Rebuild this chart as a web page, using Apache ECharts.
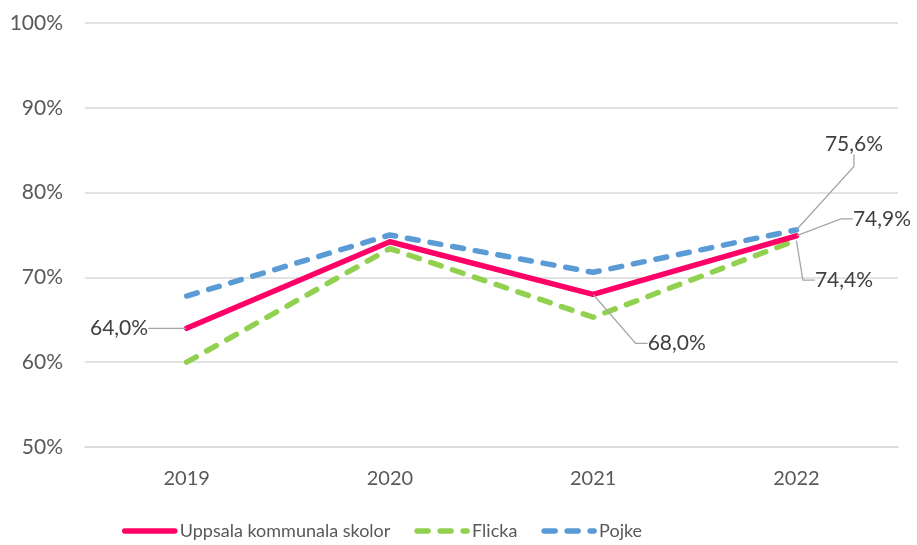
<!DOCTYPE html>
<html><head><meta charset="utf-8">
<script src="https://cdn.jsdelivr.net/npm/echarts@6/dist/echarts.min.js"></script>
<style>html,body{margin:0;padding:0;background:#fff}#c{width:917px;height:545px}</style>
</head><body><div id="c"></div>
<script>
const categories = ['2019', '2020', '2021', '2022'];
const uppsala = [64.0, 74.2, 68.0, 74.9];
const flicka = [60.0, 73.4, 65.3, 74.4];
const pojke = [67.8, 75.0, 70.6, 75.6];
const yTicks = [50, 60, 70, 80, 90, 100];
const seriesNames = ['Uppsala kommunala skolor', 'Flicka', 'Pojke'];

// which points carry a data label, and where it sits relative to the point
const labelled = {
  0: {0: {dx: -36, dy: 0, pos: 'left'}, 2: {dx: 52, dy: 49, pos: 'right'}, 3: {dx: 54, dy: -17, pos: 'right'}},
  1: {3: {dx: 16, dy: 40, pos: 'right'}},
  2: {3: {dx: 26, dy: -86, pos: 'right'}}
};

const FONT = 'Lato';
const fmt = v => v.toFixed(1).replace('.', ',') + '%';

function buildData(vals, si) {
  return vals.map((v, i) => {
    const l = labelled[si][i];
    if (!l) return {value: v, label: {show: false}, labelLine: {show: false}};
    return {value: v, label: {show: true, position: l.pos, distance: 2}, labelLine: {show: true}};
  });
}

const colors = ['#FF0066', '#92D050', '#5B9BD5'];
const chart = echarts.init(document.getElementById('c'), null, {renderer: 'canvas'});
const mk = (name, vals, si, dashed) => ({
  name: name, type: 'line', data: buildData(vals, si),
  symbol: 'circle', symbolSize: 1, showSymbol: true,
  itemStyle: {color: 'rgba(0,0,0,0)', borderWidth: 0},
  lineStyle: {color: colors[si], width: 5.5, type: dashed ? [11, 12] : 'solid', cap: 'round', join: 'round'},
  label: {color: '#404040', fontFamily: FONT, fontSize: 21, formatter: p => fmt(p.value)},
  labelLine: {lineStyle: {color: '#A6A6A6', width: 1.3}, length2: 12, smooth: false},
  emphasis: {disabled: true},
  z: si === 0 ? 3 : 2
});

chart.setOption({
  animation: false,
  color: colors,
  grid: {left: 85, right: 19, top: 23, bottom: 98, containLabel: false},
  xAxis: {
    type: 'category', data: categories, boundaryGap: true,
    axisLine: {show: true, lineStyle: {color: '#D9D9D9', width: 1.5}},
    axisTick: {show: false},
    axisLabel: {color: '#595959', fontFamily: FONT, fontSize: 20, margin: 22}
  },
  yAxis: {
    type: 'value', min: 50, max: 100, interval: 10,
    axisLine: {show: false}, axisTick: {show: false},
    splitLine: {lineStyle: {color: '#D9D9D9', width: 1.5}},
    axisLabel: {color: '#595959', fontFamily: FONT, fontSize: 21, margin: 22, formatter: v => v + '%'}
  },
  legend: {
    bottom: 0, left: 117, itemWidth: 50, itemHeight: 8, itemGap: 24,
    lineStyle: {width: 5.5, cap: 'round'},
    itemStyle: {opacity: 0},
    textStyle: {color: '#595959', fontFamily: FONT, fontSize: 18},
    data: seriesNames
  },
  labelLayout: function (params) {
    const l = labelled[params.seriesIndex] && labelled[params.seriesIndex][params.dataIndex];
    if (!l) return {};
    return {dx: l.dx, dy: l.dy};
  },
  series: [
    mk(seriesNames[0], uppsala, 0, false),
    mk(seriesNames[1], flicka, 1, true),
    mk(seriesNames[2], pojke, 2, true)
  ]
});
</script></body></html>
